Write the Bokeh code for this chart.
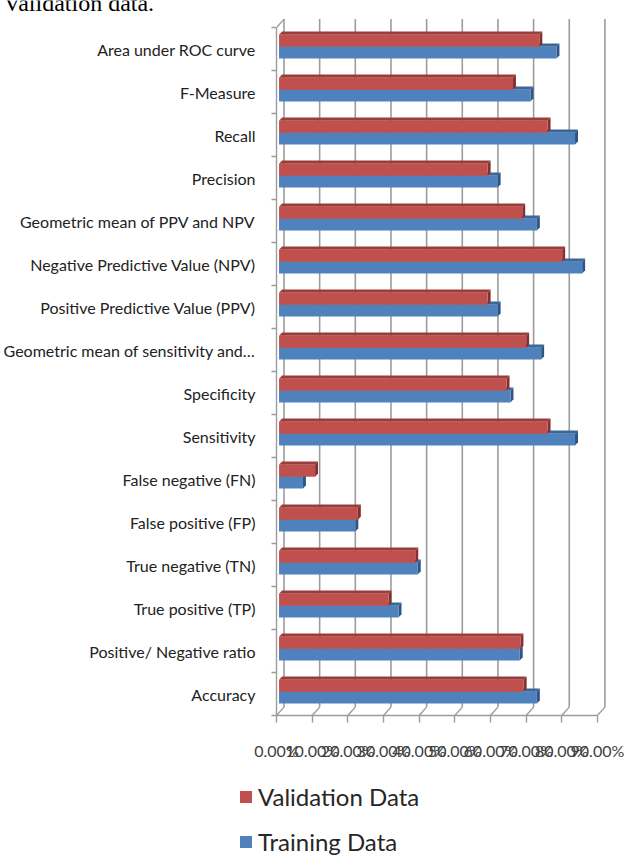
from bokeh.plotting import figure
from bokeh.layouts import column
from bokeh.models import (Range1d, FixedTicker, PrintfTickFormatter, Legend,
                          LegendItem)
from bokeh.core.properties import value
from bokeh.embed import file_html
from bokeh.resources import INLINE

# ---- data -------------------------------------------------------------
categories = [
    "Area under ROC curve",
    "F-Measure",
    "Recall",
    "Precision",
    "Geometric mean of PPV and NPV",
    "Negative Predictive Value (NPV)",
    "Positive Predictive Value (PPV)",
    "Geometric mean of sensitivity and\u2026",
    "Specificity",
    "Sensitivity",
    "False negative (FN)",
    "False positive (FP)",
    "True negative (TN)",
    "True positive (TP)",
    "Positive/ Negative ratio",
    "Accuracy",
]
validation = [73.0, 65.6, 75.3, 58.5, 68.2, 79.4, 58.5, 69.3,
              63.8, 75.3, 10.1, 22.1, 38.2, 30.7, 67.7, 68.6]
training = [77.8, 70.5, 83.0, 61.3, 72.3, 85.0, 61.3, 73.5,
            64.9, 83.0, 6.7, 21.4, 38.9, 33.5, 67.5, 72.3]
x_ticks = [0, 10, 20, 30, 40, 50, 60, 70, 80, 90]
series_names = ["Validation Data", "Training Data"]
caption_text = "Validation data."

# ---- layout constants ---------------------------------------------------
W = 625
CAP_H = 12                  # strip holding the (cropped) caption line
MAIN_H = 758
LEG_H = 856 - CAP_H - MAIN_H
LEFT, RIGHT, TOP, BOTTOM = 271, 13, 0, 55
PX_PER_PCT = 3.619          # horizontal pixels per percentage point
PX_PER_CAT = 43.0           # vertical pixels per category band
frame_w = W - LEFT - RIGHT
frame_h = MAIN_H - TOP - BOTTOM

n = len(categories)
centers = [n - 0.5 - k for k in range(n)]
bounds_y = [float(b) for b in range(n + 1)]

# 3D geometry (in data units)
wall_dx = 7.6 / PX_PER_PCT       # depth offset of the back wall
wall_dy = 8.4 / PX_PER_CAT
bar_x0 = 2.6 / PX_PER_PCT        # bars start slightly behind the front plane
bar_dx = 3.0 / PX_PER_PCT        # bar thickness (depth)
bar_dy = 3.3 / PX_PER_CAT
red_top, red_bot = 0.330, 0.051
blue_top, blue_bot = 0.051, -0.221

RED, RED_TOP, RED_SIDE = "#C0504D", "#9C3C39", "#85302E"
BLUE, BLUE_TOP, BLUE_SIDE = "#4F81BD", "#3A6699", "#2D5586"
GRID = "#9C9C9C"


def bare_figure(h):
    f = figure(width=W, height=h, output_backend="svg", toolbar_location=None,
               x_range=Range1d(0, W), y_range=Range1d(0, h),
               x_axis_type=None, y_axis_type=None, frame_align=False,
               min_border_left=0, min_border_right=0,
               min_border_top=0, min_border_bottom=0)
    f.outline_line_color = None
    f.xgrid.grid_line_color = None
    f.ygrid.grid_line_color = None
    return f


# ---- caption strip (running text above the chart, cut by the page top) --
cap = bare_figure(CAP_H)
cap.text(x=[3], y=[CAP_H - 2], text=[caption_text],
         text_font=value("Liberation Serif"), text_font_size="24px",
         text_color="black", text_baseline="alphabetic", text_align="left")

# ---- main chart -----------------------------------------------------------
p = figure(width=W, height=MAIN_H, output_backend="svg", toolbar_location=None,
           x_range=Range1d(0, frame_w / PX_PER_PCT),
           y_range=Range1d(0, frame_h / PX_PER_CAT), frame_align=False,
           min_border_left=LEFT, min_border_right=RIGHT,
           min_border_top=TOP, min_border_bottom=BOTTOM)
p.outline_line_color = None
p.xgrid.grid_line_color = None
p.ygrid.grid_line_color = None

# back wall gridlines and floor edges
back_x = [t + wall_dx for t in x_ticks]
p.segment(x0=back_x, y0=[wall_dy] * len(x_ticks),
          x1=back_x, y1=[n + wall_dy] * len(x_ticks),
          line_color=GRID, line_width=1.6)
p.segment(x0=x_ticks, y0=[0] * len(x_ticks),
          x1=back_x, y1=[wall_dy] * len(x_ticks),
          line_color=GRID, line_width=1.4)
p.segment(x0=[0], y0=[n], x1=[wall_dx], y1=[n + wall_dy],
          line_color=GRID, line_width=1.4)


def bar_faces(vals, top_off, bot_off):
    tops_x, tops_y, sides_x, sides_y = [], [], [], []
    for c, v in zip(centers, vals):
        x0, x1 = bar_x0, bar_x0 + v
        yt, yb = c + top_off, c + bot_off
        tops_x.append([x0, x1, x1 + bar_dx, x0 + bar_dx])
        tops_y.append([yt, yt, yt + bar_dy, yt + bar_dy])
        sides_x.append([x1, x1 + bar_dx, x1 + bar_dx, x1])
        sides_y.append([yt, yt + bar_dy, yb + bar_dy, yb])
    return tops_x, tops_y, sides_x, sides_y


# training bars (lower of each pair)
tx, ty, sx, sy = bar_faces(training, blue_top, blue_bot)
p.patches(tx, ty, fill_color=BLUE_TOP, line_color=None)
p.patches(sx, sy, fill_color=BLUE_SIDE, line_color=None)
p.hbar(y=[c + (blue_top + blue_bot) / 2 for c in centers],
       left=bar_x0, right=[bar_x0 + v for v in training],
       height=blue_top - blue_bot, fill_color=BLUE, line_color=None)

# validation bars (upper of each pair)
tx, ty, sx, sy = bar_faces(validation, red_top, red_bot)
p.patches(tx, ty, fill_color=RED_TOP, line_color=None)
p.patches(sx, sy, fill_color=RED_SIDE, line_color=None)
p.hbar(y=[c + (red_top + red_bot) / 2 for c in centers],
       left=bar_x0, right=[bar_x0 + v for v in validation],
       height=red_top - red_bot, fill_color=RED, line_color=None)

# x axis (front floor edge)
xa = p.xaxis[0]
xa.ticker = FixedTicker(ticks=x_ticks)
xa.formatter = PrintfTickFormatter(format="%.2f%%")
xa.bounds = (0, 90)
xa.axis_line_color = GRID
xa.axis_line_width = 1.4
xa.major_tick_line_color = GRID
xa.major_tick_line_width = 1.4
xa.major_tick_out = 7
xa.major_tick_in = 0
xa.minor_tick_line_color = None
xa.major_label_standoff = 18
xa.major_label_text_font = "Lato"
xa.major_label_text_font_size = "16px"
xa.major_label_text_color = "#404040"

# y axis with category names
ya = p.yaxis[0]
ya.ticker = FixedTicker(ticks=centers, minor_ticks=bounds_y)
ya.major_label_overrides = {c: name for c, name in zip(centers, categories)}
ya.bounds = (0, n)
ya.axis_line_color = GRID
ya.axis_line_width = 1.4
ya.major_tick_line_color = None
ya.major_tick_out = 0
ya.major_tick_in = 0
ya.minor_tick_line_color = GRID
ya.minor_tick_line_width = 1.4
ya.minor_tick_out = 5
ya.minor_tick_in = 0
ya.major_label_standoff = 16
ya.major_label_text_font = "Lato"
ya.major_label_text_font_size = "16px"
ya.major_label_text_color = "#222222"

# ---- legend strip -----------------------------------------------------------
# key renderers hold one point kept outside the visible range, so only
# their legend swatches show
leg = bare_figure(LEG_H)
key_red = leg.hbar(y=[-100], left=[0], right=[1], height=1,
                   fill_color=RED, line_color=None)
key_blue = leg.hbar(y=[-100], left=[0], right=[1], height=1,
                    fill_color=BLUE, line_color=None)
legend = Legend(items=[LegendItem(label=series_names[0], renderers=[key_red]),
                       LegendItem(label=series_names[1], renderers=[key_blue])],
                location=(238, 0), orientation="vertical",
                glyph_width=15, glyph_height=15, label_standoff=5,
                label_text_font="Lato", label_text_font_size="24px",
                label_text_color="#262626", spacing=16, padding=0, margin=0,
                border_line_color=None, background_fill_alpha=0)
leg.add_layout(legend)

layout = column(cap, p, leg, spacing=0)
open("out.html", "w").write(file_html(layout, INLINE))
